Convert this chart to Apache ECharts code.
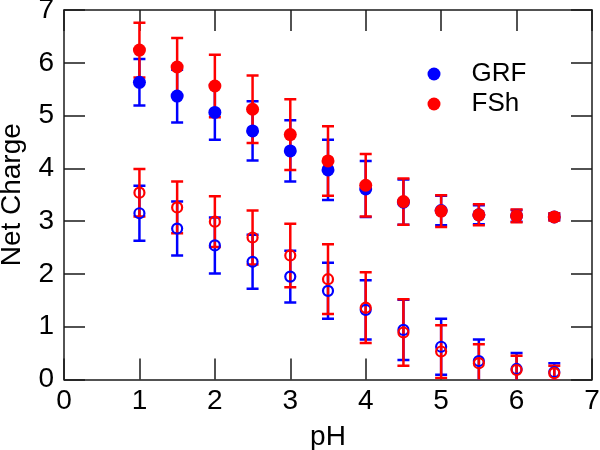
<!DOCTYPE html>
<html>
<head>
<meta charset="utf-8">
<script src="https://cdn.jsdelivr.net/npm/echarts@6/dist/echarts.min.js"></script>
<style>html,body{margin:0;padding:0;background:#fff}#c{width:600px;height:450px}</style>
</head>
<body>
<div id="c"></div>
<script>
const pH = [1, 1.5, 2, 2.5, 3, 3.5, 4, 4.5, 5, 5.5, 6, 6.5];
const grfFilled = [5.63, 5.37, 5.06, 4.71, 4.33, 3.97, 3.61, 3.36, 3.20, 3.12, 3.10, 3.08];
const grfFilledErr = [0.44, 0.50, 0.52, 0.56, 0.58, 0.57, 0.53, 0.43, 0.28, 0.18, 0.11, 0.06];
const fshFilled = [6.24, 5.92, 5.56, 5.12, 4.64, 4.14, 3.68, 3.37, 3.19, 3.12, 3.10, 3.08];
const fshFilledErr = [0.52, 0.55, 0.59, 0.64, 0.67, 0.66, 0.59, 0.44, 0.30, 0.20, 0.12, 0.07];
const grfOpen = [3.15, 2.86, 2.54, 2.23, 1.95, 1.68, 1.32, 0.94, 0.62, 0.35, 0.20, 0.14];
const grfOpenErr = [0.52, 0.51, 0.53, 0.51, 0.49, 0.53, 0.56, 0.57, 0.53, 0.41, 0.30, 0.17];
const fshOpen = [3.54, 3.26, 2.99, 2.69, 2.35, 1.90, 1.36, 0.89, 0.53, 0.31, 0.18, 0.12];
const fshOpenErr = [0.45, 0.49, 0.48, 0.51, 0.60, 0.66, 0.67, 0.63, 0.50, 0.36, 0.27, 0.14];
const xTicks = [0, 1, 2, 3, 4, 5, 6, 7];
const yTicks = [0, 1, 2, 3, 4, 5, 6, 7];

const BLUE = '#0000ff', RED = '#ff0000';
const FONT = 'Liberation Sans';

function rows(vals, errs) { return pH.map((x, i) => [x, vals[i], errs[i]]); }

function errSeries(name, vals, errs, color) {
  return {
    type: 'custom', name: name, clip: true, silent: true,
    data: rows(vals, errs),
    encode: { x: 0, y: 1 },
    renderItem: function (params, api) {
      const x = api.value(0), y = api.value(1), e = api.value(2);
      const hi = api.coord([x, y + e]);
      const lo = api.coord([x, y - e]);
      const hw = 6;
      const st = { stroke: color, lineWidth: 2.5, fill: null };
      return {
        type: 'group', children: [
          { type: 'line', shape: { x1: hi[0], y1: hi[1], x2: lo[0], y2: lo[1] }, style: st },
          { type: 'line', shape: { x1: hi[0] - hw, y1: hi[1], x2: hi[0] + hw, y2: hi[1] }, style: st },
          { type: 'line', shape: { x1: lo[0] - hw, y1: lo[1], x2: lo[0] + hw, y2: lo[1] }, style: st }
        ]
      };
    }
  };
}
function ptSeries(name, vals, color, filled) {
  return {
    type: 'scatter', name: name, silent: true,
    data: pH.map((x, i) => [x, vals[i]]),
    symbol: 'circle',
    symbolSize: filled ? 13 : 10,
    itemStyle: filled ? { color: color, opacity: 1 } :
      { color: 'rgba(255,255,255,0)', borderColor: color, borderWidth: 2.2, opacity: 1 }
  };
}

const axisCommon = {
  type: 'value', min: 0, max: 7, interval: 1,
  axisLine: { show: true, onZero: false, lineStyle: { color: '#1a1a1a', width: 1.5 } },
  axisTick: { show: true, inside: true, length: 21, lineStyle: { color: '#1a1a1a', width: 1.5 } },
  splitLine: { show: false }
};

const chart = echarts.init(document.getElementById('c'), null, { renderer: 'canvas' });
chart.setOption({
  animation: false,
  backgroundColor: '#fff',
  grid: { left: 64, top: 10, width: 528, height: 369.5, containLabel: false, outerBoundsMode: 'none' },
  legend: {
    orient: 'vertical', left: 422.5, top: 56, padding: 5,
    itemWidth: 13, itemHeight: 13, itemGap: 4,
    selectedMode: false,
    textStyle: { fontFamily: FONT, fontSize: 26, color: '#000', padding: [0, 0, 0, 26] },
    data: [
      { name: 'GRF', icon: 'circle', itemStyle: { color: BLUE } },
      { name: 'FSh', icon: 'circle', itemStyle: { color: RED } }
    ]
  },
  xAxis: [
    Object.assign({}, axisCommon, {
      position: 'bottom', name: 'pH', nameLocation: 'middle', nameGap: 44,
      nameTextStyle: { fontFamily: FONT, fontSize: 28, color: '#000' },
      axisLabel: { fontFamily: FONT, fontSize: 28, color: '#000', margin: 8,
        formatter: v => xTicks.indexOf(v) >= 0 ? String(v) : '' }
    }),
    Object.assign({}, axisCommon, { position: 'top', axisLabel: { show: false } })
  ],
  yAxis: [
    Object.assign({}, axisCommon, {
      position: 'left', name: 'Net Charge', nameLocation: 'middle', nameGap: 38,
      nameTextStyle: { fontFamily: FONT, fontSize: 28, color: '#000' },
      axisLabel: { fontFamily: FONT, fontSize: 28, color: '#000', margin: 10,
        formatter: v => yTicks.indexOf(v) >= 0 ? String(v) : '' }
    }),
    Object.assign({}, axisCommon, { position: 'right', axisLabel: { show: false } })
  ],
  series: [
    errSeries('GRF', grfOpen, grfOpenErr, BLUE),
    ptSeries('GRF', grfOpen, BLUE, false),
    errSeries('FSh', fshOpen, fshOpenErr, RED),
    ptSeries('FSh', fshOpen, RED, false),
    errSeries('GRF', grfFilled, grfFilledErr, BLUE),
    ptSeries('GRF', grfFilled, BLUE, true),
    errSeries('FSh', fshFilled, fshFilledErr, RED),
    ptSeries('FSh', fshFilled, RED, true)
  ]
});
</script>
</body>
</html>
